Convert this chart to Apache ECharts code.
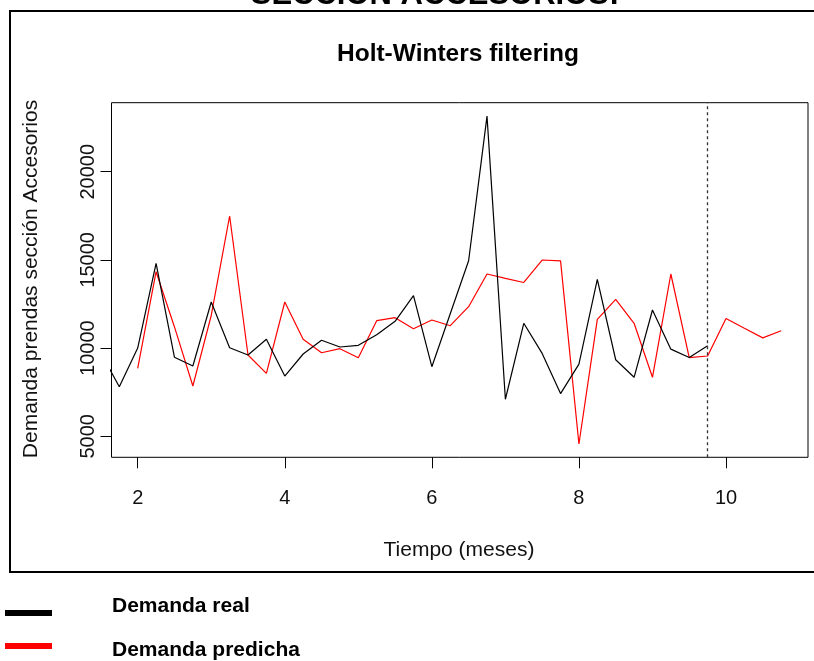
<!DOCTYPE html>
<html>
<head>
<meta charset="utf-8">
<script src="https://cdn.jsdelivr.net/npm/echarts@6/dist/echarts.min.js"></script>
<style>
html,body{margin:0;padding:0;background:#fff;}
#c{width:814px;height:661px;}
</style>
</head>
<body>
<div id="c"></div>
<script>
// ---- data ----
const timeReal = [1.5, 1.75, 2, 2.25, 2.5, 2.75, 3, 3.25, 3.5, 3.75, 4, 4.25, 4.5, 4.75, 5, 5.25, 5.5, 5.75,
  6, 6.25, 6.5, 6.75, 7, 7.25, 7.5, 7.75, 8, 8.25, 8.5, 8.75, 9, 9.25, 9.5, 9.75];
const demandReal = [9700, 7812, 10000, 14807, 9478, 8985, 12613, 10023, 9609, 10499, 8418, 9666, 10442, 10062,
  10159, 10760, 11519, 12971, 8946, 11950, 14950, 23150, 7100, 11406, 9700, 7420, 9090, 13900, 9340, 8345,
  12160, 9940, 9470, 10130];
const timePred = [2, 2.25, 2.5, 2.75, 3, 3.25, 3.5, 3.75, 4, 4.25, 4.5, 4.75, 5, 5.25, 5.5, 5.75, 6, 6.25,
  6.5, 6.75, 7, 7.25, 7.5, 7.75, 8, 8.25, 8.5, 8.75, 9, 9.25, 9.5, 9.75, 10, 10.25, 10.5, 10.75];
const demandPred = [8855, 14331, 11200, 7851, 11850, 17489, 9609, 8571, 12613, 10499, 9739, 9966, 9456, 11553,
  11723, 11100, 11593, 11270, 12347, 14201, 13957, 13720, 14994, 14945, 4564, 11633, 12766, 11406, 8345,
  14201, 9456, 9552, 11680, 11122, 10580, 10986];
const xTicks = [2, 4, 6, 8, 10];
const yTicks = [5000, 10000, 15000, 20000];
const forecastStart = 9.75;
const seriesNames = ['Demanda real', 'Demanda predicha'];

const FONT = '"Liberation Sans", Arial, Helvetica, sans-serif';

const chart = echarts.init(document.getElementById('c'), null, {renderer: 'canvas'});

const zip = (xs, ys) => xs.map((x, i) => [x, ys[i]]);

const option = {
  backgroundColor: '#fff',
  animation: false,
  grid: {
    left: 111.5, right: 6, top: 102.7, bottom: 203.7,
    show: true, borderColor: '#000', borderWidth: 1, backgroundColor: 'transparent'
  },
  xAxis: {
    type: 'value',
    min: 1.6437, max: 11.115,
    axisLine: {show: false},
    splitLine: {show: false},
    axisTick: {show: true, length: 11, lineStyle: {color: '#000', width: 1}, customValues: xTicks},
    axisLabel: {
      customValues: xTicks, margin: 31, color: '#111',
      fontFamily: FONT, fontSize: 20, lineHeight: 20,
      formatter: v => String(v)
    }
  },
  yAxis: {
    type: 'value',
    min: 3810, max: 23912,
    axisLine: {show: false},
    splitLine: {show: false},
    axisTick: {show: true, length: 11, lineStyle: {color: '#000', width: 1}, customValues: yTicks},
    axisLabel: {
      customValues: yTicks, margin: 13, rotate: 90, color: '#111',
      fontFamily: FONT, fontSize: 20, lineHeight: 20,
      formatter: v => String(v)
    }
  },
  series: [
    {
      name: seriesNames[0], type: 'line', data: zip(timeReal, demandReal),
      showSymbol: false, symbol: 'none', clip: true,
      lineStyle: {color: '#000', width: 1.2},
      markLine: {
        silent: true, symbol: 'none', label: {show: false},
        lineStyle: {color: '#333', width: 1.3, type: [3, 3]},
        data: [{xAxis: forecastStart}]
      },
      z: 3
    },
    {
      name: seriesNames[1], type: 'line', data: zip(timePred, demandPred),
      showSymbol: false, symbol: 'none', clip: true,
      lineStyle: {color: '#ff0000', width: 1.2},
      z: 2
    }
  ],
  graphic: [
    {type: 'rect', shape: {x: 10, y: 11, width: 830, height: 561},
      style: {fill: 'none', stroke: '#000', lineWidth: 2}, z: 0},
    {type: 'text', x: 435, y: -5, style: {text: 'SECCIÓN ACCESORIOS:', font: 'bold 31px ' + FONT,
      fill: '#000', align: 'center', verticalAlign: 'middle'}},
    {type: 'text', x: 458, y: 54, style: {text: 'Holt-Winters filtering', font: 'bold 24.5px ' + FONT,
      fill: '#000', align: 'center', verticalAlign: 'middle'}},
    {type: 'text', x: 459, y: 550, style: {text: 'Tiempo (meses)', font: '21px ' + FONT,
      fill: '#111', align: 'center', verticalAlign: 'middle'}},
    {type: 'text', x: 31, y: 279, rotation: Math.PI / 2, style: {text: 'Demanda prendas sección Accesorios',
      font: '21px ' + FONT, fill: '#111', align: 'center', verticalAlign: 'middle'}},
    {type: 'rect', shape: {x: 5, y: 610, width: 47, height: 6}, style: {fill: '#000'}},
    {type: 'rect', shape: {x: 5, y: 643, width: 47, height: 6}, style: {fill: '#ff0000'}},
    {type: 'text', x: 112, y: 606, style: {text: seriesNames[0], font: 'bold 21px ' + FONT,
      fill: '#000', align: 'left', verticalAlign: 'middle'}},
    {type: 'text', x: 112, y: 650, style: {text: seriesNames[1], font: 'bold 21px ' + FONT,
      fill: '#000', align: 'left', verticalAlign: 'middle'}}
  ]
};
chart.setOption(option);
</script>
</body>
</html>
